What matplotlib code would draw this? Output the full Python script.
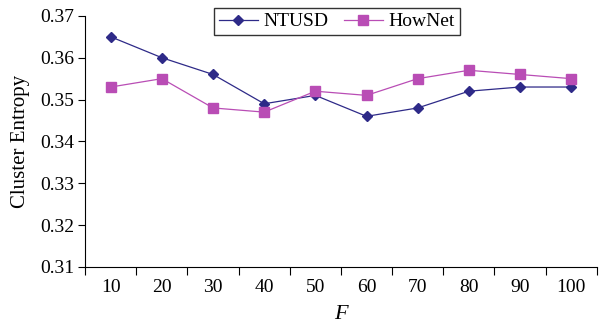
import matplotlib
matplotlib.use('Agg')
import matplotlib.pyplot as plt
import numpy as np

# Datos
f_vals = ['10', '20', '30', '40', '50', '60', '70', '80', '90', '100']
ntusd = [0.365, 0.360, 0.356, 0.349, 0.351, 0.346, 0.348, 0.352, 0.353, 0.353]
hownet = [0.353, 0.355, 0.348, 0.347, 0.352, 0.351, 0.355, 0.357, 0.356, 0.355]

plt.rcParams['font.family'] = ['Liberation Serif', 'DejaVu Serif']

fig = plt.figure(figsize=(6.04, 3.24), dpi=100)
ax = fig.add_axes([0.141, 0.176, 0.847, 0.775])

x = np.arange(len(f_vals))
ax.plot(x, ntusd, color='#2E2A88', marker='D', markersize=5.5, linewidth=0.9, label='NTUSD')
ax.plot(x, hownet, color='#B94DB5', marker='s', markersize=7, linewidth=0.9, label='HowNet')

ax.set_xlim(-0.5, len(f_vals) - 0.5)
ax.set_ylim(0.31, 0.37)
ax.set_yticks(np.arange(0.31, 0.3701, 0.01))
ax.set_yticklabels(['%.2f' % v for v in np.arange(0.31, 0.3701, 0.01)])

# Eje de categorias: marcas entre categorias, etiquetas centradas
ax.set_xticks(np.arange(-0.5, len(f_vals), 1.0))
ax.set_xticklabels([])
ax.set_xticks(x, minor=True)
ax.set_xticklabels(f_vals, minor=True)
ax.tick_params(axis='x', which='minor', length=0, pad=9, labelsize=14)
ax.tick_params(axis='x', which='major', length=6, direction='out')
ax.tick_params(axis='y', length=5, direction='out', labelsize=14, pad=3)

ax.spines['top'].set_visible(False)
ax.spines['right'].set_visible(False)

ax.set_xlabel('F', fontstyle='italic', fontsize=16, labelpad=6)
ax.set_ylabel('Cluster Entropy', fontsize=15, labelpad=7)

leg = ax.legend(loc='upper center', bbox_to_anchor=(0.492, 1.07), ncol=2, fontsize=14,
                frameon=True, fancybox=False, shadow=False, handlelength=2.0,
                columnspacing=0.8, borderpad=0.25, handletextpad=0.3)
leg.get_frame().set_edgecolor('black')
leg.get_frame().set_linewidth(1)

plt.savefig('out.png', dpi=100)
